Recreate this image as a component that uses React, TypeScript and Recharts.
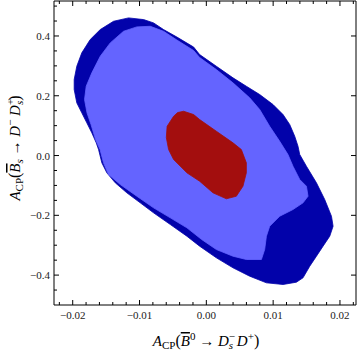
import React from 'react';
import { ScatterChart, Scatter, XAxis, YAxis, Curve } from 'recharts';

// Outer (dark blue) region boundary
const darkX = [-0.01164, -0.00939, -0.0079, -0.0064, -0.0044, -0.0019, -0.001, 0.0015, 0.00399, 0.00599, 0.00799, 0.00998, 0.01148, 0.01248, 0.01323, 0.01372, 0.01398, 0.01498, 0.01648, 0.01772, 0.01873, 0.01897, 0.01847, 0.01747, 0.01648, 0.01548, 0.01447, 0.01348, 0.01148, 0.00899, 0.00649, 0.00399, 0.0015, -0.001, -0.00291, -0.00539, -0.0079, -0.00989, -0.0119, -0.01363, -0.01489, -0.01564, -0.01613, -0.01648, -0.01714, -0.01789, -0.01864, -0.01939, -0.01978, -0.01978, -0.01939, -0.01864, -0.01738, -0.01588, -0.01389];
const darkY = [0.4605, 0.4548, 0.4438, 0.4214, 0.3963, 0.3629, 0.3378, 0.2987, 0.2599, 0.2318, 0.204, 0.1706, 0.1371, 0.1037, 0.0645, 0.0311, 0.0033, -0.0358, -0.0913, -0.1472, -0.203, -0.2365, -0.2699, -0.3033, -0.3368, -0.3702, -0.409, -0.4237, -0.4314, -0.4258, -0.4037, -0.3756, -0.3421, -0.3033, -0.2699, -0.2308, -0.1916, -0.1582, -0.1247, -0.0913, -0.0579, -0.0244, 0.0201, 0.0425, 0.0759, 0.1094, 0.1428, 0.1763, 0.2207, 0.2542, 0.2987, 0.3435, 0.388, 0.4214, 0.4492];

// Middle (light blue) region boundary
const lightX = [-0.0104, -0.00839, -0.0064, -0.0044, -0.0019, -0.001, 0.0015, 0.00399, 0.00649, 0.00799, 0.00948, 0.01098, 0.01222, 0.01297, 0.01398, 0.01498, 0.01522, 0.01447, 0.01297, 0.01098, 0.00948, 0.00899, 0.00873, 0.00824, 0.00599, 0.00399, 0.0015, -0.0007, -0.00291, -0.00539, -0.0079, -0.0104, -0.01288, -0.01464, -0.01539, -0.01591, -0.01658, -0.01726, -0.01786, -0.01823, -0.01798, -0.01714, -0.01588, -0.01438, -0.01239];
const lightY = [0.4304, 0.4324, 0.4157, 0.3863, 0.3512, 0.3278, 0.2876, 0.2431, 0.193, 0.1538, 0.098, 0.0478, 0.0033, -0.0358, -0.0803, -0.1027, -0.1361, -0.1582, -0.1806, -0.203, -0.2365, -0.2699, -0.3144, -0.3478, -0.3478, -0.3368, -0.3144, -0.2809, -0.2418, -0.2084, -0.1749, -0.1361, -0.097, -0.0635, -0.0244, 0.0201, 0.0535, 0.1037, 0.1428, 0.1873, 0.2318, 0.2766, 0.3321, 0.3769, 0.4157];

// Inner (red) region boundary
const redX = [-0.0034, -0.0019, -0.001, 0.0015, 0.00399, 0.00524, 0.00599, 0.00599, 0.00548, 0.00449, 0.003, 0.00099, -0.001, -0.00291, -0.0049, -0.00565, -0.00599, -0.00587, -0.0049, -0.0043];
const redY = [0.1482, 0.1371, 0.1204, 0.0813, 0.0425, 0.0201, -0.0244, -0.0579, -0.1027, -0.1361, -0.1448, -0.1247, -0.086, -0.0579, -0.0134, 0.0201, 0.0602, 0.098, 0.1314, 0.1438];

const xMajorTicks = [-0.02, -0.01, 0, 0.01, 0.02];
const xTickLabels = ['\u22120.02', '\u22120.01', '0.00', '0.01', '0.02'];
const xMinorTicks = [-0.022, -0.018, -0.016, -0.014, -0.012, -0.008, -0.006, -0.004, -0.002, 0.002, 0.004, 0.006, 0.008, 0.012, 0.014, 0.016, 0.018, 0.022];
const yMajorTicks = [-0.4, -0.2, 0, 0.2, 0.4];
const yTickLabels = ['\u22120.4', '\u22120.2', '0.0', '0.2', '0.4'];
const yMinorTicks = [-0.45, -0.35, -0.3, -0.25, -0.15, -0.1, -0.05, 0.05, 0.1, 0.15, 0.25, 0.3, 0.35, 0.45, 0.5];

const xDomain = [-0.0228, 0.0224];
const yDomain = [-0.5, 0.517];

const toPoints = (xs: number[], ys: number[]) => xs.map((x, i) => ({ x, y: ys[i] }));
const darkData = toPoints(darkX, darkY);
const lightData = toPoints(lightX, lightY);
const redData = toPoints(redX, redY);

const allXTicks = [...xMajorTicks, ...xMinorTicks].sort((a, b) => a - b);
const allYTicks = [...yMajorTicks, ...yMinorTicks].sort((a, b) => a - b);

const majorIndex = (arr: number[], v: number) => arr.findIndex((t) => Math.abs(t - v) < 1e-9);

const FONT = '"Liberation Serif", "DejaVu Serif", serif';
const MAJOR = 5;
const MINOR = 3;

const BottomTick = (props: any) => {
  const { x, y, payload } = props;
  const idx = majorIndex(xMajorTicks, payload.value);
  const len = idx >= 0 ? MAJOR : MINOR;
  return (
    <g>
      <line x1={x} y1={y} x2={x} y2={y - len} stroke="#000" strokeWidth={1} />
      {idx >= 0 && (
        <text x={x} y={y + 14} textAnchor="middle" fontFamily={FONT} fontSize={11} fill="#222">
          {xTickLabels[idx]}
        </text>
      )}
    </g>
  );
};

const TopTick = (props: any) => {
  const { x, y, payload } = props;
  const idx = majorIndex(xMajorTicks, payload.value);
  const len = idx >= 0 ? MAJOR : MINOR;
  return <line x1={x} y1={y} x2={x} y2={y + len} stroke="#000" strokeWidth={1} />;
};

const LeftTick = (props: any) => {
  const { x, y, payload } = props;
  const idx = majorIndex(yMajorTicks, payload.value);
  const len = idx >= 0 ? MAJOR : MINOR;
  return (
    <g>
      <line x1={x} y1={y} x2={x + len} y2={y} stroke="#000" strokeWidth={1} />
      {idx >= 0 && (
        <text x={x - 4} y={y + 4} textAnchor="end" fontFamily={FONT} fontSize={11} fill="#222">
          {yTickLabels[idx]}
        </text>
      )}
    </g>
  );
};

const RightTick = (props: any) => {
  const { x, y } = props;
  return <line x1={x} y1={y} x2={x - MAJOR} y2={y} stroke="#000" strokeWidth={1} />;
};

const XLabel = () => (
  <text x={206} y={346} textAnchor="middle" fontFamily={FONT} fontSize={15} fill="#000">
    <tspan fontStyle="italic">A</tspan>
    <tspan fontSize={11} dy={3}>CP</tspan>
    <tspan dy={-3} fontSize={16}>(</tspan>
    <tspan fontStyle="italic" style={{ textDecoration: 'overline' }}>B</tspan>
    <tspan fontSize={11} dy={-6}>0</tspan>
    <tspan dy={6}>{' \u2192 '}</tspan>
    <tspan fontStyle="italic">D</tspan>
    <tspan fontSize={11} dy={-6}>{'\u2212'}</tspan>
    <tspan fontSize={11} fontStyle="italic" dx={-6.2} dy={9}>s</tspan>
    <tspan dy={-3}>{'  '}</tspan>
    <tspan fontStyle="italic">D</tspan>
    <tspan fontSize={11} dy={-6}>+</tspan>
    <tspan dy={6} fontSize={16}>)</tspan>
  </text>
);

const YLabel = () => (
  <text
    x={0}
    y={0}
    transform="translate(20, 148) rotate(-90)"
    textAnchor="middle"
    fontFamily={FONT}
    fontSize={15}
    fill="#000"
  >
    <tspan fontStyle="italic">A</tspan>
    <tspan fontSize={11} dy={3}>CP</tspan>
    <tspan dy={-3} fontSize={16}>(</tspan>
    <tspan fontStyle="italic" style={{ textDecoration: 'overline' }}>B</tspan>
    <tspan fontSize={11} fontStyle="italic" dy={3}>s</tspan>
    <tspan dy={-3}>{' \u2192 '}</tspan>
    <tspan fontStyle="italic">D</tspan>
    <tspan fontSize={11} dy={-6}>{'\u2212'}</tspan>
    <tspan dy={6}>{'  '}</tspan>
    <tspan fontStyle="italic">D</tspan>
    <tspan fontSize={11} dy={-6}>+</tspan>
    <tspan fontSize={11} fontStyle="italic" dx={-6.2} dy={9}>s</tspan>
    <tspan dy={-3} fontSize={16}>)</tspan>
  </text>
);

const region = (color: string) => (p: any) => (
  <Curve points={p.points} type="linearClosed" fill={color} stroke={color} strokeWidth={0.8} />
);

const noShape = () => <g />;

export default function App() {
  return (
    <div style={{ position: 'absolute', left: 0, top: 0, width: 360, height: 354, background: '#fff' }}>
      <ScatterChart width={360} height={354} margin={{ top: 0, right: 3, bottom: 0, left: 0 }}>
        <XAxis
          type="number"
          dataKey="x"
          domain={xDomain}
          allowDataOverflow
          ticks={allXTicks}
          interval={0}
          height={49}
          tickSize={0}
          tickMargin={0}
          tickLine={false}
          axisLine={{ stroke: '#000', strokeWidth: 1 }}
          tick={BottomTick}
          label={<XLabel />}
        />
        <XAxis
          xAxisId="top"
          orientation="top"
          type="number"
          dataKey="x"
          domain={xDomain}
          allowDataOverflow
          ticks={allXTicks}
          interval={0}
          height={1}
          tickSize={0}
          tickMargin={0}
          tickLine={false}
          axisLine={{ stroke: '#000', strokeWidth: 1 }}
          tick={TopTick}
        />
        <YAxis
          type="number"
          dataKey="y"
          domain={yDomain}
          allowDataOverflow
          ticks={allYTicks}
          interval={0}
          width={54}
          tickSize={0}
          tickMargin={0}
          tickLine={false}
          axisLine={{ stroke: '#000', strokeWidth: 1 }}
          tick={LeftTick}
          label={<YLabel />}
        />
        <YAxis
          yAxisId="right"
          orientation="right"
          type="number"
          dataKey="y"
          domain={yDomain}
          allowDataOverflow
          ticks={yMajorTicks}
          interval={0}
          width={1}
          tickSize={0}
          tickMargin={0}
          tickLine={false}
          axisLine={{ stroke: '#000', strokeWidth: 1 }}
          tick={RightTick}
        />
        <Scatter data={darkData} fill="#0202aa" line={region('#0202aa')} shape={noShape} isAnimationActive={false} />
        <Scatter data={lightData} fill="#6464ff" line={region('#6464ff')} shape={noShape} isAnimationActive={false} />
        <Scatter data={redData} fill="#a30e0e" line={region('#a30e0e')} shape={noShape} isAnimationActive={false} />
        <Scatter
          data={redData}
          xAxisId="top"
          yAxisId="right"
          fill="none"
          shape={noShape}
          legendType="none"
          isAnimationActive={false}
        />
      </ScatterChart>
    </div>
  );
}
